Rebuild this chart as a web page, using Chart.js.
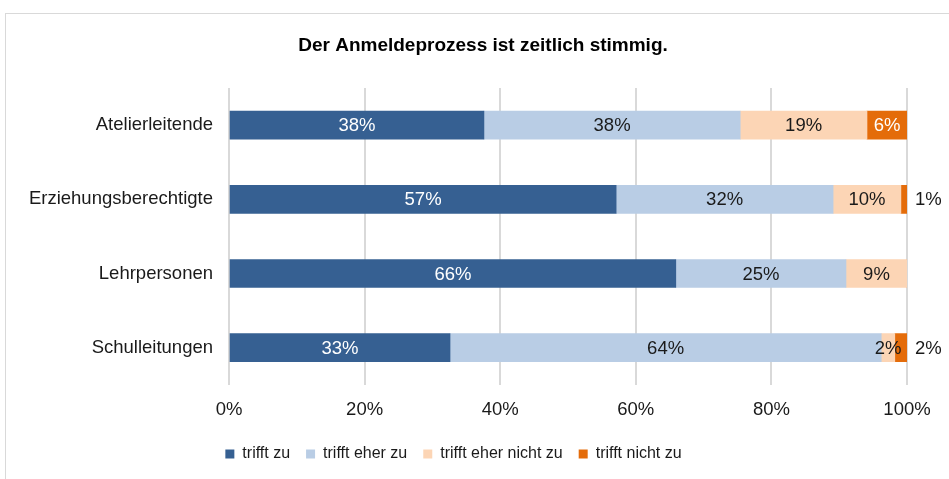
<!DOCTYPE html>
<html>
<head>
<meta charset="utf-8">
<script src="https://cdn.jsdelivr.net/npm/chart.js@4.4.1/dist/chart.umd.min.js"></script>
<style>
  body { margin: 0; background: #fff; }
  #wrap { width: 949px; height: 479px; }
</style>
</head>
<body>
<div id="wrap"><canvas id="chart" width="949" height="479"></canvas></div>
<script>
// categories and series (percent)
const categories = ["Atelierleitende", "Erziehungsberechtigte", "Lehrpersonen", "Schulleitungen"];
const seriesNames = ["trifft zu", "trifft eher zu", "trifft eher nicht zu", "trifft nicht zu"];
const trifftZu = [37.6, 57.1, 65.9, 32.6];
const eherZu = [37.8, 32.0, 25.1, 63.6];
const eherNicht = [18.7, 10.0, 9.0, 2.0];
const nichtZu = [5.9, 0.9, 0, 1.8];
const xTicks = [0, 20, 40, 60, 80, 100];
const titleText = "Der Anmeldeprozess ist zeitlich stimmig.";

const colors = ["#366092", "#B9CDE5", "#FCD5B5", "#E46C0A"];
const labelColors = ["#ffffff", "#1a1a1a", "#1a1a1a", "#ffffff"];
const FONT = "'Liberation Sans', Arial, sans-serif";
const FS = 18.5;

// white background, the thin frame of the chart box and the title
// (title is centred on the whole box, not on the plot, so drawn here)
const framePlugin = {
  id: "frame",
  beforeDraw(chart) {
    const ctx = chart.ctx;
    ctx.save();
    ctx.fillStyle = "#fff";
    ctx.fillRect(0, 0, chart.width, chart.height);
    ctx.strokeStyle = "#d9d9d9";
    ctx.lineWidth = 1;
    ctx.strokeRect(5.5, 13.5, chart.width + 10, chart.height + 10);
    ctx.fillStyle = "#000";
    ctx.font = "bold 19px " + FONT;
    ctx.textAlign = "center";
    ctx.textBaseline = "middle";
    ctx.fillText(titleText, 483, 46);
    ctx.restore();
  }
};

// percent labels on the bars, small ones outside on the right
const valueLabels = {
  id: "valueLabels",
  afterDatasetsDraw(chart) {
    const ctx = chart.ctx;
    ctx.save();
    ctx.font = FS + "px " + FONT;
    ctx.textBaseline = "middle";
    chart.data.datasets.forEach((ds, di) => {
      const meta = chart.getDatasetMeta(di);
      meta.data.forEach((bar, i) => {
        const v = ds.data[i];
        if (!v) return;
        const txt = Math.round(v) + "%";
        if (di === 3 && v < 3) {
          ctx.fillStyle = "#1a1a1a";
          ctx.textAlign = "left";
          ctx.fillText(txt, chart.chartArea.right + 8, bar.y + 1);
        } else {
          ctx.fillStyle = labelColors[di];
          ctx.textAlign = "center";
          ctx.fillText(txt, (bar.x + bar.base) / 2, bar.y + 1);
        }
      });
    });
    ctx.restore();
  }
};

const allSeries = [trifftZu, eherZu, eherNicht, nichtZu];

new Chart(document.getElementById("chart"), {
  type: "bar",
  data: {
    labels: categories,
    datasets: allSeries.map((d, i) => ({
      label: seriesNames[i],
      data: d,
      backgroundColor: colors[i],
      borderWidth: 0,
      barThickness: 28
    }))
  },
  options: {
    indexAxis: "y",
    responsive: false,
    animation: false,
    layout: { padding: { left: 0, right: 42, top: 88, bottom: 7 } },
    scales: {
      x: {
        stacked: true,
        min: 0,
        max: 100,
        afterBuildTicks: (s) => { s.ticks = xTicks.map(v => ({ value: v })); },
        afterFit: (s) => { s.height -= 5; },
        grid: { color: "#d9d9d9", lineWidth: 2, drawTicks: false },
        border: { display: false },
        ticks: {
          padding: 14,
          color: "#1a1a1a",
          font: { family: FONT, size: FS },
          callback: (v) => v + "%"
        }
      },
      y: {
        stacked: true,
        afterFit: (s) => { s.width = 229; },
        grid: { display: false, drawTicks: false },
        border: { display: false },
        ticks: {
          padding: 16,
          color: "#1a1a1a",
          font: { family: FONT, size: FS }
        }
      }
    },
    plugins: {
      title: { display: false },
      legend: {
        position: "bottom",
        labels: {
          boxWidth: 9,
          boxHeight: 9,
          padding: 16,
          color: "#1a1a1a",
          font: { family: FONT, size: 16 }
        }
      },
      tooltip: { enabled: false }
    }
  },
  plugins: [framePlugin, valueLabels]
});
</script>
</body>
</html>
